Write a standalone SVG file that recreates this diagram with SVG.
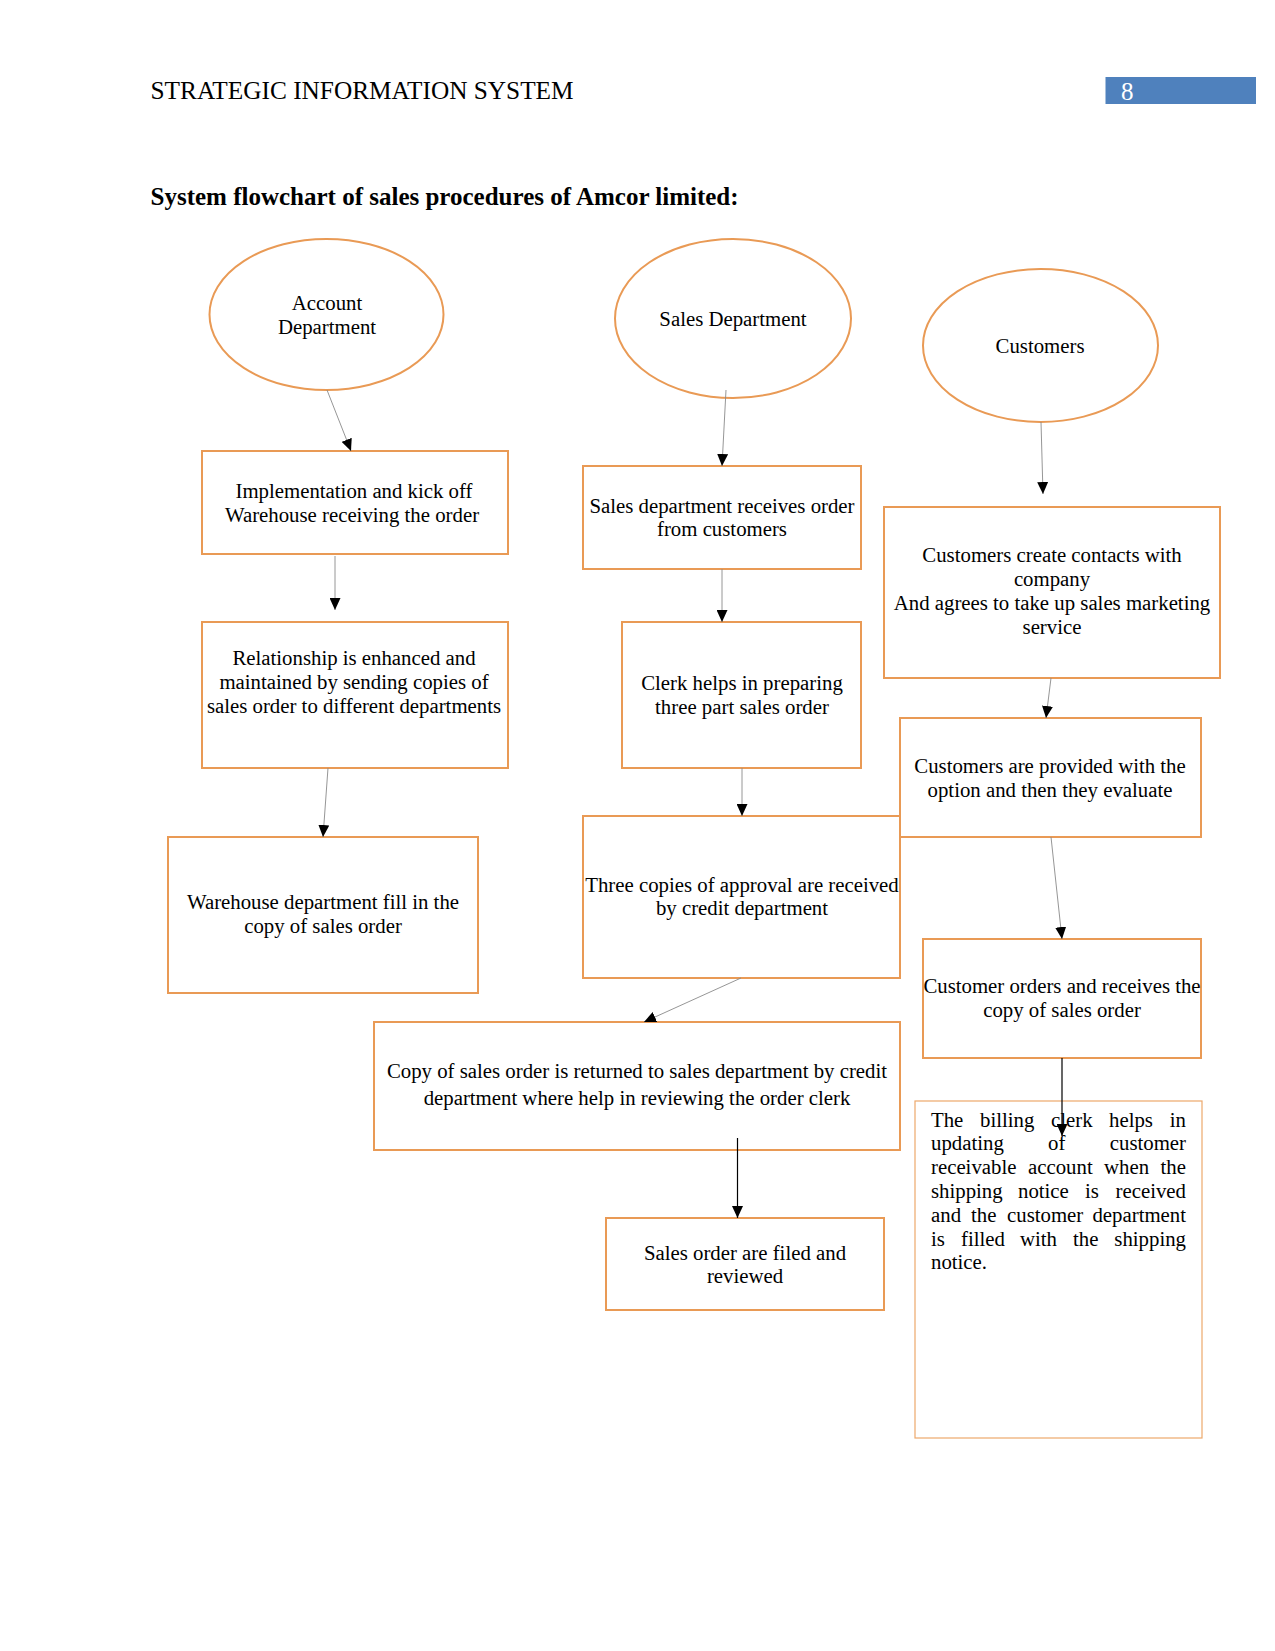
<svg xmlns="http://www.w3.org/2000/svg" width="1275" height="1651" viewBox="0 0 1275 1651">
<style>
  text { font-family: "Liberation Serif", "Times New Roman", serif; fill: #000; }
  .n { font-size: 20.8px; text-anchor: middle; }
  .j { font-size: 20.8px; }
  .je { font-size: 20.8px; text-anchor: end; }
  .box { fill: #fff; stroke: #E99A55; stroke-width: 2; }
  .thin { fill: #fff; stroke: #EDA86B; stroke-width: 1.2; }
  .ell { fill: #fff; stroke: #E99A55; stroke-width: 2; }
  .c { stroke: #8a8a8a; stroke-width: 0.9; fill: none; marker-end: url(#ah); }
  .cd { stroke: #000; stroke-width: 1.2; fill: none; marker-end: url(#ah); }
</style>
<defs>
  <marker id="ah" viewBox="0 0 12 11" refX="12" refY="5.5" markerWidth="12" markerHeight="11" markerUnits="userSpaceOnUse" orient="auto">
    <path d="M0,0 L12,5.5 L0,11 z" fill="#000"/>
  </marker>
</defs>
<rect width="1275" height="1651" fill="#fff"/>
<g id="header">
  <text x="150.5" y="99" style="font-size:25.3px">STRATEGIC INFORMATION SYSTEM</text>
  <rect x="1105.5" y="77" width="150.5" height="27" fill="#4F81BD"/>
  <text x="1121" y="100" style="font-size:25px;fill:#fff">8</text>
  <text x="150.5" y="205" style="font-size:25px;font-weight:bold">System flowchart of sales procedures of Amcor limited:</text>
</g>
<g id="account-dept">
  <ellipse class="ell" cx="326.5" cy="314.5" rx="117" ry="75.5"/>
  <text class="n" x="327" y="310">Account</text>
  <text class="n" x="327" y="334">Department</text>
</g>
<g id="sales-dept">
  <ellipse class="ell" cx="733" cy="318.5" rx="118" ry="79.5"/>
  <text class="n" x="733" y="326">Sales Department</text>
</g>
<g id="customers">
  <ellipse class="ell" cx="1040.5" cy="345.5" rx="117.5" ry="76.5"/>
  <text class="n" x="1040" y="353">Customers</text>
</g>
<g id="a1">
  <rect class="box" x="202" y="451" width="306" height="103"/>
  <text class="n" x="354" y="498">Implementation and kick off</text>
  <text class="n" x="352" y="522">Warehouse receiving the order</text>
</g>
<g id="a2">
  <rect class="box" x="202" y="622" width="306" height="146"/>
  <text class="n" x="354" y="665">Relationship is enhanced and</text>
  <text class="n" x="354" y="689">maintained by sending copies of</text>
  <text class="n" x="354" y="713">sales order to different departments</text>
</g>
<g id="a3">
  <rect class="box" x="168" y="837" width="310" height="156"/>
  <text class="n" x="323" y="909">Warehouse department fill in the</text>
  <text class="n" x="323" y="933">copy of sales order</text>
</g>
<g id="s1">
  <rect class="box" x="583" y="466" width="278" height="103"/>
  <text class="n" x="722" y="513">Sales department receives order</text>
  <text class="n" x="722" y="536">from customers</text>
</g>
<g id="s2">
  <rect class="box" x="622" y="622" width="239" height="146"/>
  <text class="n" x="742" y="690">Clerk helps in preparing</text>
  <text class="n" x="742" y="714">three part sales order</text>
</g>
<g id="s3">
  <rect class="box" x="583" y="816" width="317" height="162"/>
  <text class="n" x="742" y="892">Three copies of approval are received</text>
  <text class="n" x="742" y="915">by credit department</text>
</g>
<g id="s4">
  <rect class="box" x="374" y="1022" width="526" height="128"/>
  <text class="n" x="637" y="1078">Copy of sales order is returned to sales department by credit</text>
  <text class="n" x="637" y="1105">department where help in reviewing the order clerk</text>
</g>
<g id="s5">
  <rect class="box" x="606" y="1218" width="278" height="92"/>
  <text class="n" x="745" y="1260">Sales order are filed and</text>
  <text class="n" x="745" y="1283">reviewed</text>
</g>
<g id="c1">
  <rect class="box" x="884" y="507" width="336" height="171"/>
  <text class="n" x="1052" y="562">Customers create contacts with</text>
  <text class="n" x="1052" y="586">company</text>
  <text class="n" x="1052" y="610">And agrees to take up sales marketing</text>
  <text class="n" x="1052" y="634">service</text>
</g>
<g id="c2">
  <rect class="box" x="900" y="718" width="301" height="119"/>
  <text class="n" x="1050" y="773">Customers are provided with the</text>
  <text class="n" x="1050" y="797">option and then they evaluate</text>
</g>
<g id="c3">
  <rect class="box" x="923" y="939" width="278" height="119"/>
  <text class="n" x="1062" y="993">Customer orders and receives the</text>
  <text class="n" x="1062" y="1017">copy of sales order</text>
</g>
<g id="c4">
  <rect class="thin" x="915" y="1101" width="287" height="337"/>
  <text class="j" x="931" y="1127">The</text>
  <text class="j" x="980" y="1127">billing</text>
  <text class="j" x="1051" y="1127">clerk</text>
  <text class="j" x="1109" y="1127">helps</text>
  <text class="je" x="1186" y="1127">in</text>
  <text class="j" x="931" y="1150">updating</text>
  <text class="j" x="1048" y="1150">of</text>
  <text class="je" x="1186" y="1150">customer</text>
  <text class="j" x="931" y="1174">receivable</text>
  <text class="j" x="1028" y="1174">account</text>
  <text class="j" x="1104" y="1174">when</text>
  <text class="je" x="1186" y="1174">the</text>
  <text class="j" x="931" y="1198">shipping</text>
  <text class="j" x="1018" y="1198">notice</text>
  <text class="j" x="1085" y="1198">is</text>
  <text class="je" x="1186" y="1198">received</text>
  <text class="j" x="931" y="1222">and</text>
  <text class="j" x="971" y="1222">the</text>
  <text class="j" x="1007" y="1222">customer</text>
  <text class="je" x="1186" y="1222">department</text>
  <text class="j" x="931" y="1246">is</text>
  <text class="j" x="961" y="1246">filled</text>
  <text class="j" x="1020" y="1246">with</text>
  <text class="j" x="1073" y="1246">the</text>
  <text class="je" x="1186" y="1246">shipping</text>
  <text class="j" x="931" y="1269">notice.</text>
</g>
<g id="connectors">
  <line class="c" x1="327" y1="390" x2="351" y2="451"/>
  <line class="c" x1="335" y1="556" x2="335" y2="610"/>
  <line class="c" x1="328" y1="768" x2="323" y2="837"/>
  <line class="c" x1="726" y1="390" x2="722" y2="466"/>
  <line class="c" x1="722" y1="569" x2="722" y2="622"/>
  <line class="c" x1="742" y1="768" x2="742" y2="816"/>
  <line class="c" x1="741" y1="978" x2="644" y2="1022"/>
  <line class="cd" x1="737.5" y1="1138" x2="737.5" y2="1218"/>
  <line class="c" x1="1041" y1="422" x2="1043" y2="494"/>
  <line class="c" x1="1051" y1="678" x2="1046" y2="718"/>
  <line class="c" x1="1051" y1="837" x2="1062" y2="939"/>
  <line class="cd" x1="1062" y1="1058" x2="1062" y2="1136"/>
</g>
</svg>
